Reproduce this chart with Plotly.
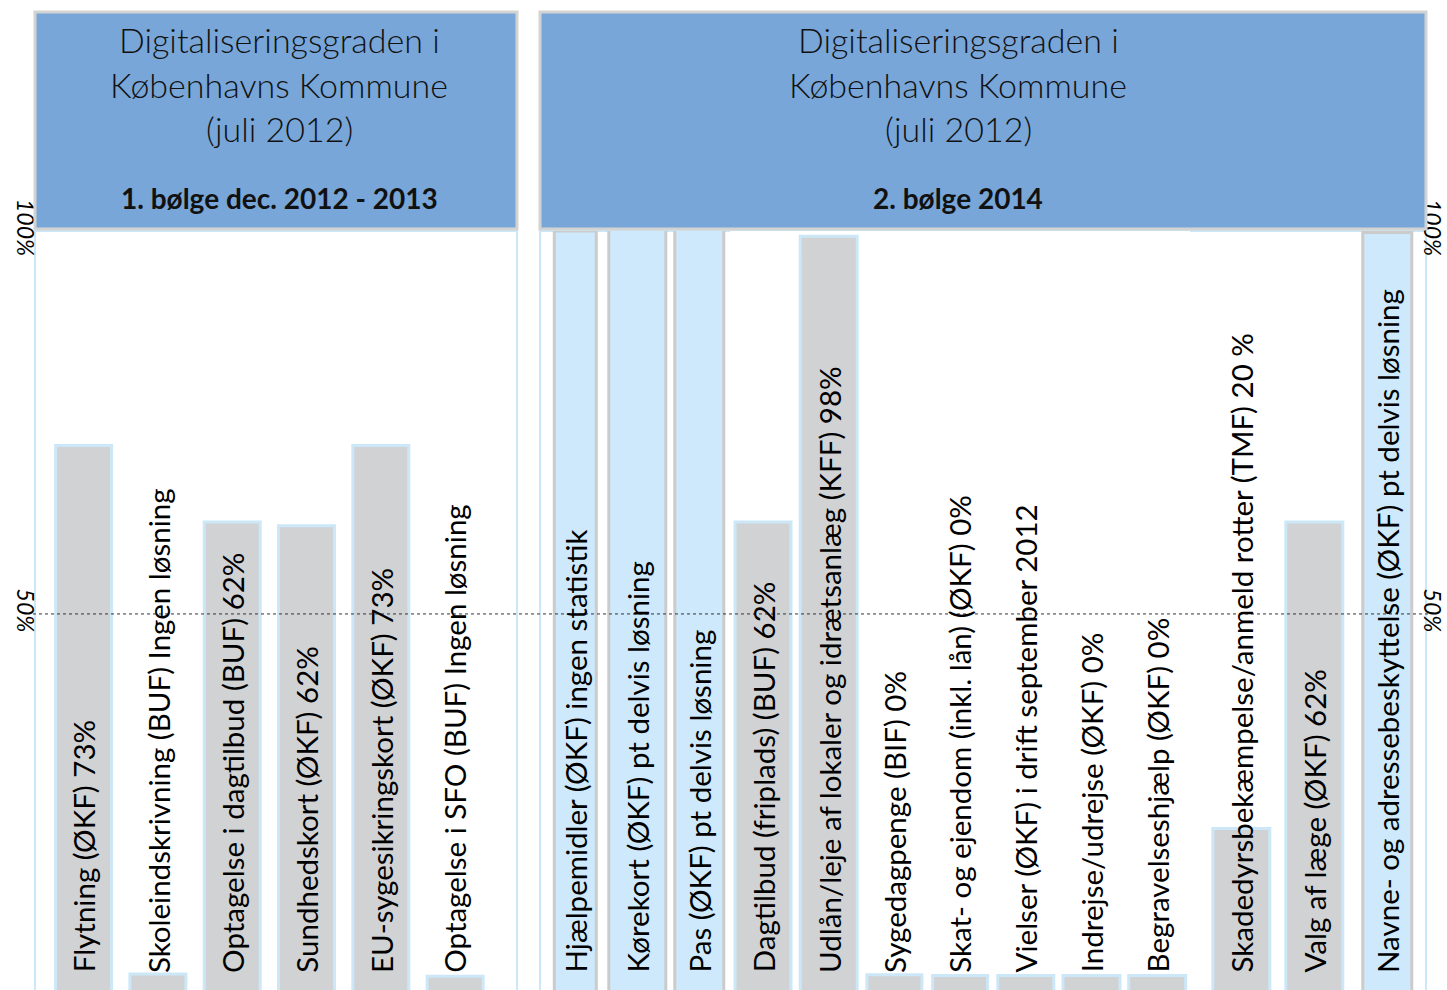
import plotly.graph_objects as go

# ---------------- data ----------------
wave1_labels = [
    "Flytning (ØKF) 73%",
    "Skoleindskrivning (BUF) Ingen løsning",
    "Optagelse i dagtilbud (BUF) 62%",
    "Sundhedskort (ØKF) 62%",
    "EU-sygesikringskort (ØKF) 73%",
    "Optagelse i SFO (BUF) Ingen løsning",
]
wave1_values = [72, 3, 62, 61.5, 72, 2.7]
wave1_kind = ["grey", "grey", "grey", "grey", "grey", "grey"]

wave2_labels = [
    "Hjælpemidler (ØKF) ingen statistik",
    "Kørekort (ØKF) pt delvis løsning",
    "Pas (ØKF) pt delvis løsning",
    "Dagtilbud (friplads) (BUF) 62%",
    "Udlån/leje af lokaler og idrætsanlæg (KFF) 98%",
    "Sygedagpenge (BIF) 0%",
    "Skat- og ejendom (inkl. lån) (ØKF) 0%",
    "Vielser (ØKF) i drift september 2012",
    "Indrejse/udrejse (ØKF) 0%",
    "Begravelseshjælp (ØKF) 0%",
    "Skadedyrsbekæmpelse/anmeld rotter (TMF) 20 %",
    "Valg af læge (ØKF) 62%",
    "Navne- og adressebeskyttelse (ØKF) pt delvis løsning",
]
wave2_values = [100, 100.2, 100.2, 62, 99.3, 2.9, 2.8, 2.8, 2.8, 2.8, 22, 62, 99.8]
wave2_kind = ["blue", "blue", "blue", "grey", "grey", "grey", "grey",
              "grey", "grey", "grey", "grey", "grey", "blue"]

header_lines = ["Digitaliseringsgraden i", "Københavns Kommune", "(juli 2012)"]
wave_titles = ["1. bølge dec. 2012 - 2013", "2. bølge 2014"]
y_tick_vals = [50, 100]
y_tick_text = ["50%", "100%"]

# ---------------- layout / styles ----------------
W, H = 1447, 990
PLOT_TOP = 231
PLOT_H = H - PLOT_TOP
GREY = "#d1d2d4"
LBLUE = "#cde9fb"
HEAD = "#78a6d8"
BORDER_GREY = "#cbcbcb"
BORDER_BLUE = "#cce8f8"
FONT = "Lato"

# column groups: (series, first index, count, left px of domain, px per category, bar px widths)
groups = [
    ("w1", 0, 6, 46.45, 74.3, [56] * 6),
    ("w2", 0, 3, 544.3, 62.0, [42, 57, 49]),
    ("w2", 3, 7, 730.15, 65.7, [56, 57, 55, 55, 56, 57, 57]),
    ("w2", 10, 3, 1204.8, 73.0, [57, 57, 49]),
]

fill = {"grey": GREY, "blue": LBLUE}
edge = {"grey": BORDER_BLUE, "blue": BORDER_GREY}
series = {
    "w1": (wave1_labels, wave1_values, wave1_kind),
    "w2": (wave2_labels, wave2_values, wave2_kind),
}


def px(x):
    return x / W


def py(y):
    return (H - y) / PLOT_H


yrange = [0.9, 100]
fig = go.Figure()
annotations = []
axis_layout = {}
for gi, (key, start, n, left, slot, widths) in enumerate(groups):
    labels, values, kinds = series[key]
    lab = labels[start:start + n]
    val = values[start:start + n]
    knd = kinds[start:start + n]
    xname = "x" if gi == 0 else f"x{gi + 1}"
    fig.add_trace(go.Bar(
        x=lab, y=val, xaxis=xname, yaxis="y",
        width=[w / slot for w in widths],
        marker=dict(color=[fill[k] for k in knd],
                    line=dict(color=[edge[k] for k in knd], width=3)),
        hoverinfo="skip", showlegend=False))
    axis_layout["xaxis" if gi == 0 else f"xaxis{gi + 1}"] = dict(
        domain=[px(left), px(left + n * slot)], showticklabels=False,
        showgrid=False, zeroline=False, showline=False, ticks="",
        range=[-0.5, n - 0.5], anchor="y", fixedrange=True, automargin=False)
    for t in lab:
        annotations.append(dict(
            x=t, y=2.9, xref=xname, yref="y", text=t, textangle=-90,
            showarrow=False, xanchor="center", yanchor="bottom",
            font=dict(family=FONT, size=29.5, color="#000")))

# invisible trace carrying the right-hand axis
fig.add_trace(go.Scatter(x=[wave2_labels[-1]], y=[50], xaxis="x4", yaxis="y5",
                         mode="markers", marker=dict(opacity=0),
                         hoverinfo="skip", showlegend=False))

panels = [(35, 517, 279), (540, 1426, 958)]
shapes = []
for (x0, x1, cx), wt in zip(panels, wave_titles):
    shapes.append(dict(type="rect", xref="paper", yref="paper",
                       x0=px(x0), x1=px(x1), y0=py(229), y1=py(12),
                       fillcolor=HEAD, line=dict(color="#d3d3d3", width=3),
                       layer="above"))
    shapes.append(dict(type="rect", xref="paper", yref="paper",
                       x0=px(x0), x1=px(x1), y0=py(1100), y1=py(231),
                       fillcolor="rgba(0,0,0,0)",
                       line=dict(color=BORDER_BLUE, width=2), layer="below"))
    for i, line in enumerate(header_lines):
        annotations.append(dict(
            x=px(cx), y=py(40 + 44 * i), xref="paper", yref="paper",
            text=line, showarrow=False, xanchor="center", yanchor="middle",
            font=dict(family=FONT, size=34, color="#111", weight=300)))
    annotations.append(dict(
        x=px(cx), y=py(198), xref="paper", yref="paper",
        text="<b>" + wt + "</b>", showarrow=False, xanchor="center",
        yanchor="middle", font=dict(family=FONT, size=28, color="#111")))

shapes.append(dict(type="line", xref="paper", yref="y",
                   x0=px(33), x1=px(1428), y0=50, y1=50,
                   line=dict(color="#333", width=1, dash="dot"), layer="above"))

tickfont = dict(family=FONT, size=23, color="#000", style="italic")
fig.update_layout(
    width=W, height=H,
    margin=dict(l=0, r=0, t=PLOT_TOP, b=0, autoexpand=False),
    paper_bgcolor="white", plot_bgcolor="white",
    barmode="overlay",
    yaxis=dict(range=yrange, anchor="free", position=px(40),
               tickvals=y_tick_vals, ticktext=y_tick_text, tickangle=90,
               tickfont=tickfont, showgrid=False, zeroline=False,
               showline=False, ticks="", fixedrange=True, automargin=False),
    yaxis5=dict(range=yrange, overlaying="y", side="right", anchor="free",
                position=px(1418), tickvals=y_tick_vals, ticktext=y_tick_text,
                tickangle=90, tickfont=tickfont, showgrid=False,
                zeroline=False, showline=False, ticks="", fixedrange=True,
                automargin=False),
    shapes=shapes, annotations=annotations,
    **axis_layout,
)

fig.write_html(
    "out.html",
    config={"displayModeBar": False},
    post_script="document.body.style.margin='0';"
                "document.body.style.overflow='hidden';"
                "document.documentElement.style.overflow='hidden';",
)
